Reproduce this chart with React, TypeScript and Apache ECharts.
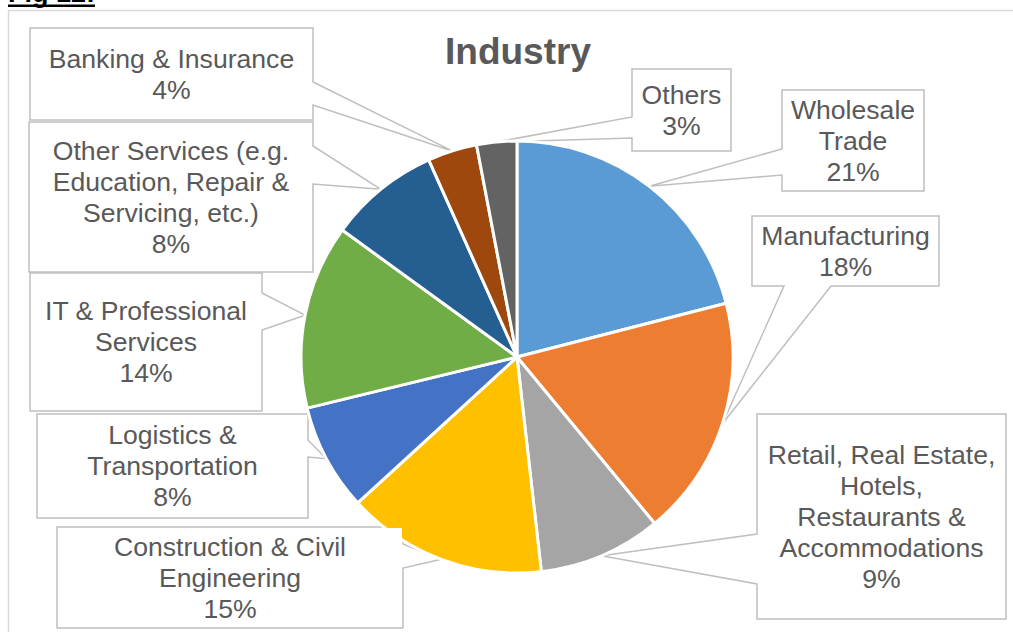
import React, { useEffect, useRef } from 'react';
import * as echarts from 'echarts';

// ---- data ----
const categories = [
  'Wholesale Trade',
  'Manufacturing',
  'Retail, Real Estate, Hotels, Restaurants & Accommodations',
  'Construction & Civil Engineering',
  'Logistics & Transportation',
  'IT & Professional Services',
  'Other Services (e.g. Education, Repair & Servicing, etc.)',
  'Banking & Insurance',
  'Others',
];
const labelTexts = [
  'Wholesale\nTrade',
  'Manufacturing',
  'Retail, Real Estate,\nHotels,\nRestaurants &\nAccommodations',
  'Construction & Civil\nEngineering',
  'Logistics &\nTransportation',
  'IT & Professional\nServices',
  'Other Services (e.g.\nEducation, Repair &\nServicing, etc.)',
  'Banking & Insurance',
  'Others',
];
const values = [21.0, 18.0, 9.2, 15.0, 8.0, 13.8, 8.3, 3.7, 3.0];
const colors = ['#5B9BD5', '#ED7D31', '#A5A5A5', '#FFC000', '#4472C4', '#70AD47', '#255E91', '#9E480E', '#636363'];

// ---- callout layout (positions only) ----
// box: [x1, y1, x2, y2]; ty: text block centre; a, b: wedge base points on box edge
const callouts = [
  { box: [782, 90, 924, 191], ty: 141.7, a: [782, 149], b: [782, 175] },
  { box: [752, 216, 939, 286], ty: 253, a: [784, 286], b: [831, 286] },
  { box: [757, 414, 1006, 619], ty: 517.4, a: [757, 534], b: [757, 584] },
  { box: [57, 527, 403, 628], ty: 577.5, a: [403, 544], b: [403, 568] },
  { box: [37, 414, 308, 518], ty: 467.5, a: [308, 440], b: [308, 457] },
  { box: [30, 273, 262, 411], ty: 344, a: [262, 293], b: [262, 330] },
  { box: [29, 122, 313, 272], ty: 197.5, a: [313, 146], b: [313, 184] },
  { box: [30, 28, 313, 120], ty: 75.8, a: [313, 82], b: [313, 105] },
  { box: [632, 69, 731, 151], ty: 112, a: [632, 117], b: [632, 138] },
];

const LINE_H = 31;
const FONT = "'Liberation Sans', Arial, sans-serif";

function perimT(box: number[], p: number[]) {
  const [x1, y1, x2, y2] = box;
  const W = x2 - x1, H = y2 - y1;
  const [px, py] = p;
  if (Math.abs(py - y1) < 0.5) return px - x1;
  if (Math.abs(px - x2) < 0.5) return W + (py - y1);
  if (Math.abs(py - y2) < 0.5) return W + H + (x2 - px);
  return 2 * W + H + (y2 - py);
}

function wedgePoints(box: number[], a: number[], b: number[], tip: number[]) {
  const [x1, y1, x2, y2] = box;
  const W = x2 - x1, H = y2 - y1;
  const P = 2 * W + 2 * H;
  const tA = perimT(box, a), tB = perimT(box, b);
  let S = a, E = b, tS = tA, tE = tB;
  if ((tB - tA + P) % P > P / 2) {
    S = b; E = a; tS = tB; tE = tA;
  }
  const span = (tS - tE + P) % P;
  const corners = [
    { p: [x1, y1], t: 0 },
    { p: [x2, y1], t: W },
    { p: [x2, y2], t: W + H },
    { p: [x1, y2], t: 2 * W + H },
  ]
    .map((c) => ({ p: c.p, off: (c.t - tE + P) % P }))
    .filter((c) => c.off > 0 && c.off < span)
    .sort((m, n) => m.off - n.off);
  const pts: number[][] = [tip, E];
  corners.forEach((c) => pts.push(c.p));
  pts.push(S, tip);
  return pts;
}

export default function App() {
  const ref = useRef<HTMLDivElement>(null);

  useEffect(() => {
    if (!ref.current) return;
    const chart = echarts.init(ref.current, undefined, { renderer: 'svg' });

    const data = categories.map((name, i) => {
      const c = callouts[i];
      const n = labelTexts[i].split('\n').length + 1;
      const [x1, y1, x2, y2] = c.box;
      const textTop = c.ty - (n * LINE_H) / 2;
      const textBottom = c.ty + (n * LINE_H) / 2;
      const pt = Math.max(0, textTop - (y1 + 1));
      const pb = Math.max(0, y2 - 1 - textBottom);
      return {
        name,
        value: values[i],
        itemStyle: { color: colors[i] },
        label: {
          width: x2 - x1 - 2,
          padding: [pt, 0, pb, 0],
        },
      };
    });

    chart.setOption({
      animation: false,
      backgroundColor: '#ffffff',
      title: {
        text: 'Industry',
        left: 513,
        top: 28,
        textAlign: 'center',
        textVerticalAlign: 'top',
        textStyle: {
          fontFamily: FONT,
          fontSize: 37,
          fontWeight: 'bold',
          color: '#595959',
        },
      },
      graphic: [
        {
          type: 'rect',
          z: -10,
          shape: { x: 8.5, y: 10.5, width: 1100, height: 700 },
          style: { fill: '#ffffff', stroke: '#D9D9D9', lineWidth: 1.5 },
        },
        {
          type: 'text',
          x: 8,
          y: -7,
          style: {
            text: 'Fig 12:',
            fontFamily: FONT,
            fontSize: 27,
            fontWeight: 'bold',
            fill: '#000000',
            textVerticalAlign: 'middle',
          },
        },
        {
          type: 'rect',
          shape: { x: 8, y: 4.5, width: 87, height: 2.5 },
          style: { fill: '#000000' },
        },
      ],
      series: [
        {
          type: 'pie',
          center: [517, 357],
          radius: 216,
          startAngle: 90,
          clockwise: true,
          avoidLabelOverlap: false,
          percentPrecision: 2,
          itemStyle: { borderColor: '#ffffff', borderWidth: 3 },
          label: {
            show: true,
            position: 'outer',
            color: '#595959',
            fontFamily: FONT,
            fontSize: 26.6,
            lineHeight: LINE_H,
            backgroundColor: '#ffffff',
            formatter: (p: any) => `${labelTexts[p.dataIndex]}\n${Math.round(p.percent)}%`,
          },
          labelLine: {
            show: true,
            length: 5,
            length2: 5,
            lineStyle: { color: '#BFBFBF', width: 1.5 },
          },
          labelLayout: (params: any) => {
            const c = callouts[params.dataIndex];
            const [x1, y1, x2, y2] = c.box;
            const tip = params.labelLinePoints && params.labelLinePoints[0]
              ? params.labelLinePoints[0]
              : [(x1 + x2) / 2, (y1 + y2) / 2];
            return {
              x: (x1 + x2) / 2,
              y: (y1 + y2) / 2,
              align: 'center',
              verticalAlign: 'middle',
              labelLinePoints: wedgePoints(c.box, c.a, c.b, tip),
            };
          },
          emphasis: { disabled: true },
          data,
        },
      ],
    });

    return () => chart.dispose();
  }, []);

  return (
    <div
      ref={ref}
      style={{ position: 'absolute', left: 0, top: 0, width: 1013, height: 632 }}
    />
  );
}
